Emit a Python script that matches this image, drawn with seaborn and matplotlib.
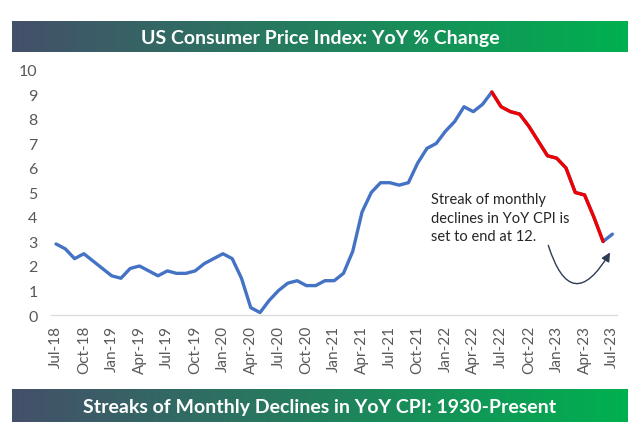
import numpy as np
import pandas as pd
import matplotlib
matplotlib.use("Agg")
import matplotlib.pyplot as plt
from matplotlib.colors import LinearSegmentedColormap
import seaborn as sns

# ---- data ----
cpi_yoy = [2.9, 2.7, 2.3, 2.5, 2.2, 1.9,
           1.6, 1.5, 1.9, 2.0, 1.8, 1.6, 1.8, 1.7, 1.7, 1.8, 2.1, 2.3,
           2.5, 2.3, 1.5, 0.3, 0.1, 0.6, 1.0, 1.3, 1.4, 1.2, 1.2, 1.4,
           1.4, 1.7, 2.6, 4.2, 5.0, 5.4, 5.4, 5.3, 5.4, 6.2, 6.8, 7.0,
           7.5, 7.9, 8.5, 8.3, 8.6, 9.1, 8.5, 8.3, 8.2, 7.7, 7.1, 6.5,
           6.4, 6.0, 5.0, 4.9, 4.0, 3.0, 3.3]
streak_start = 47   # Jun-22 peak
streak_end = 59     # Jun-23
tick_labels = ["Jul-18", "Oct-18", "Jan-19", "Apr-19", "Jul-19", "Oct-19",
               "Jan-20", "Apr-20", "Jul-20", "Oct-20", "Jan-21", "Apr-21",
               "Jul-21", "Oct-21", "Jan-22", "Apr-22", "Jul-22", "Oct-22",
               "Jan-23", "Apr-23", "Jul-23"]
y_ticks = list(range(0, 11))
title_top = "US Consumer Price Index: YoY % Change"
title_bottom = "Streaks of Monthly Declines in YoY CPI: 1930-Present"
note = "Streak of monthly\ndeclines in YoY CPI is\nset to end at 12."

df = pd.DataFrame({"idx": np.arange(len(cpi_yoy)), "cpi": cpi_yoy})
df_red = df.iloc[streak_start:streak_end + 1]

sns.set_style("white")
plt.rcParams["font.family"] = ["Lato", "DejaVu Sans"]

W, H = 637, 435
fig = plt.figure(figsize=(W / 100, H / 100), dpi=100)

ax = fig.add_axes([51.4 / W, 1 - 316 / H, 565.6 / W, 245 / H])
sns.lineplot(data=df, x="idx", y="cpi", ax=ax, color="#4472C4", linewidth=2.4,
             solid_capstyle="round", solid_joinstyle="round")
sns.lineplot(data=df_red, x="idx", y="cpi", ax=ax, color="#F00000", linewidth=2.4,
             solid_capstyle="round", solid_joinstyle="round")

ax.set_xlim(-0.5, len(cpi_yoy) - 0.5)
ax.set_ylim(0, 10)
ax.set_xlabel("")
ax.set_ylabel("")
ax.set_yticks(y_ticks)
ax.set_yticklabels([str(v) for v in y_ticks])
ax.set_xticks(np.arange(0, len(cpi_yoy), 3))
ax.set_xticklabels(tick_labels, rotation=90)
ax.set_xticks(np.arange(-0.5, len(cpi_yoy), 3), minor=True)
ax.tick_params(axis="x", which="major", length=0, pad=7, labelsize=11, labelcolor="#595959")
ax.tick_params(axis="x", which="minor", length=6, width=0.8, color="#d9d9d9", direction="out")
ax.tick_params(axis="y", length=0, pad=10, labelsize=11.5, labelcolor="#595959")
for s in ["top", "right", "left"]:
    ax.spines[s].set_visible(False)
ax.spines["bottom"].set_color("#d9d9d9")
ax.spines["bottom"].set_linewidth(0.9)
ax.patch.set_alpha(0)

# annotation
ax.text(40.45, 5.0, note, ha="left", va="top", fontsize=10.5, color="#262626",
        linespacing=1.4)
ax.annotate("", xy=(59.9, 2.65), xytext=(53.0, 2.95),
            arrowprops=dict(arrowstyle="-|>", color="#2F3B55", lw=1.0,
                            mutation_scale=13,
                            connectionstyle="arc3,rad=1.15"))

# gradient banners
cmap = LinearSegmentedColormap.from_list("band", ["#44506A", "#00B050"])
grad = np.linspace(0, 1, 256).reshape(1, -1)


def banner(bottom_px, top_px, text):
    bax = fig.add_axes([12 / W, 1 - bottom_px / H, 616 / W, (bottom_px - top_px) / H])
    bax.imshow(grad, aspect="auto", cmap=cmap, extent=[0, 1, 0, 1])
    bax.set_xlim(0, 1)
    bax.set_ylim(0, 1)
    bax.axis("off")
    bax.text(0.5, 0.48, text, ha="center", va="center", color="white",
             fontsize=14, fontweight="bold")


banner(53, 22, title_top)
banner(423, 390, title_bottom)

fig.savefig("out.png", dpi=100)
